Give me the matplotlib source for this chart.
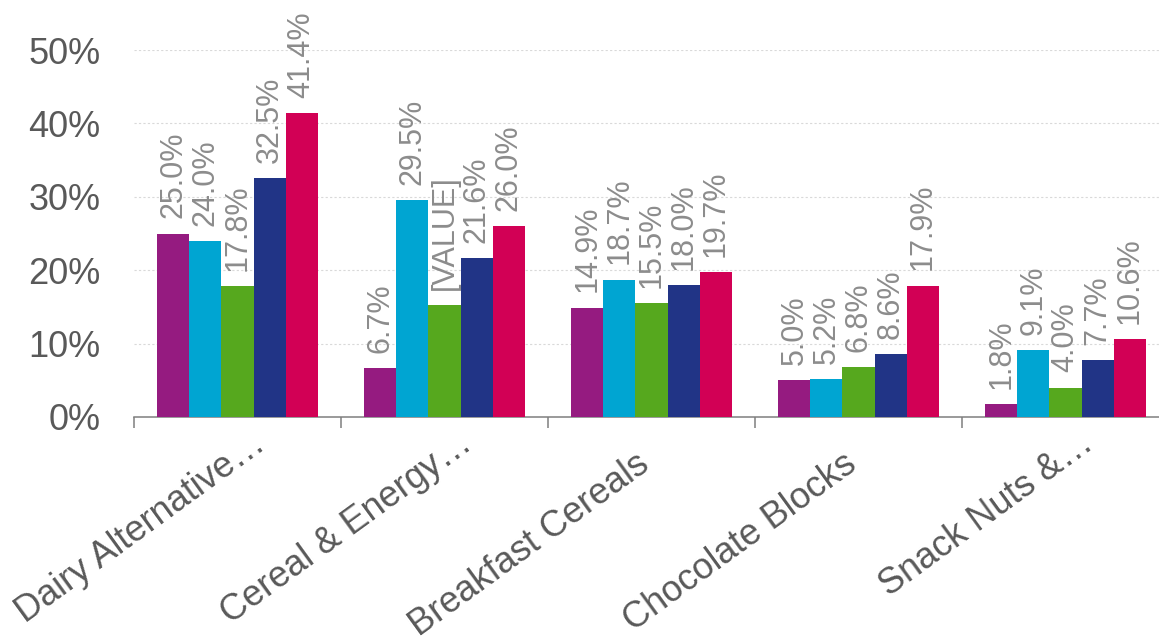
import matplotlib
matplotlib.use("Agg")
import matplotlib.pyplot as plt
import matplotlib.transforms as mtransforms
import numpy as np

plt.rcParams['font.family'] = ['Liberation Sans', 'DejaVu Sans']

categories = ["Dairy Alternative…", "Cereal & Energy…", "Breakfast Cereals",
              "Chocolate Blocks", "Snack Nuts &…"]

purple = [25.0, 6.7, 14.9, 5.0, 1.8]
cyan = [24.0, 29.5, 18.7, 5.2, 9.1]
green = [17.8, 15.2, 15.5, 6.8, 4.0]
navy = [32.5, 21.6, 18.0, 8.6, 7.7]
crimson = [41.4, 26.0, 19.7, 17.9, 10.6]

# one label is an unfilled placeholder in the source data
green_labels = ["17.8%", "[VALUE]", "15.5%", "6.8%", "4.0%"]

y_ticks = [0, 10, 20, 30, 40, 50]
y_tick_labels = ['0%', '10%', '20%', '30%', '40%', '50%']

series = [purple, cyan, green, navy, crimson]
colors = ['#951B80', '#00A5D2', '#56A81E', '#213486', '#D20055']
labels = [[f'{v:.1f}%' for v in s] for s in series]
labels[2] = green_labels

fig = plt.figure(figsize=(11.59, 6.42), dpi=100)
ax = fig.add_axes([134 / 1159, 225 / 642, 1035 / 1159, 367 / 642])

x = np.arange(len(categories))
width = 0.1546
for i, (vals, col, labs) in enumerate(zip(series, colors, labels)):
    pos = x + (i - 2) * width
    ax.bar(pos, vals, width=width, color=col, zorder=3)
    for px, v, lab in zip(pos, vals, labs):
        ax.annotate(lab, (px, v), xytext=(0, 11), textcoords='offset points',
                    rotation=90, ha='center', va='bottom', fontsize=22,
                    color='#8C8C8C', zorder=4)

ax.set_xlim(-0.5, len(categories) - 0.5)
ax.set_ylim(0, 50)

# y axis
ax.set_yticks(y_ticks)
ax.set_yticklabels(y_tick_labels)
ax.tick_params(axis='y', length=0, pad=24, labelsize=26, labelcolor='#595959')
ax.grid(axis='y', color='#D9D9D9', linestyle=(0, (2, 2)), linewidth=0.8, zorder=0)

# x axis: ticks between categories, labels drawn separately
ax.set_xticks(np.arange(-0.5, len(categories), 1.0))
ax.set_xticklabels([])
ax.tick_params(axis='x', length=8, width=1.1, color='#7F7F7F', direction='out')

for side in ['left', 'right', 'top']:
    ax.spines[side].set_visible(False)
ax.spines['bottom'].set_color('#7F7F7F')
ax.spines['bottom'].set_linewidth(1.1)

base = mtransforms.blended_transform_factory(ax.transData, ax.transAxes)
for xi, name in zip(x, categories):
    dx, dy = 0, -37
    if name.endswith('…'):
        # truncated names sit further along their baseline
        dx, dy = 21, -22
    tr = base + mtransforms.ScaledTranslation(dx / 72, dy / 72, fig.dpi_scale_trans)
    ax.text(xi, 0, name, transform=tr, rotation=36, rotation_mode='anchor',
            ha='right', va='baseline', fontsize=26, color='#595959')

fig.savefig('out.png', dpi=100)
